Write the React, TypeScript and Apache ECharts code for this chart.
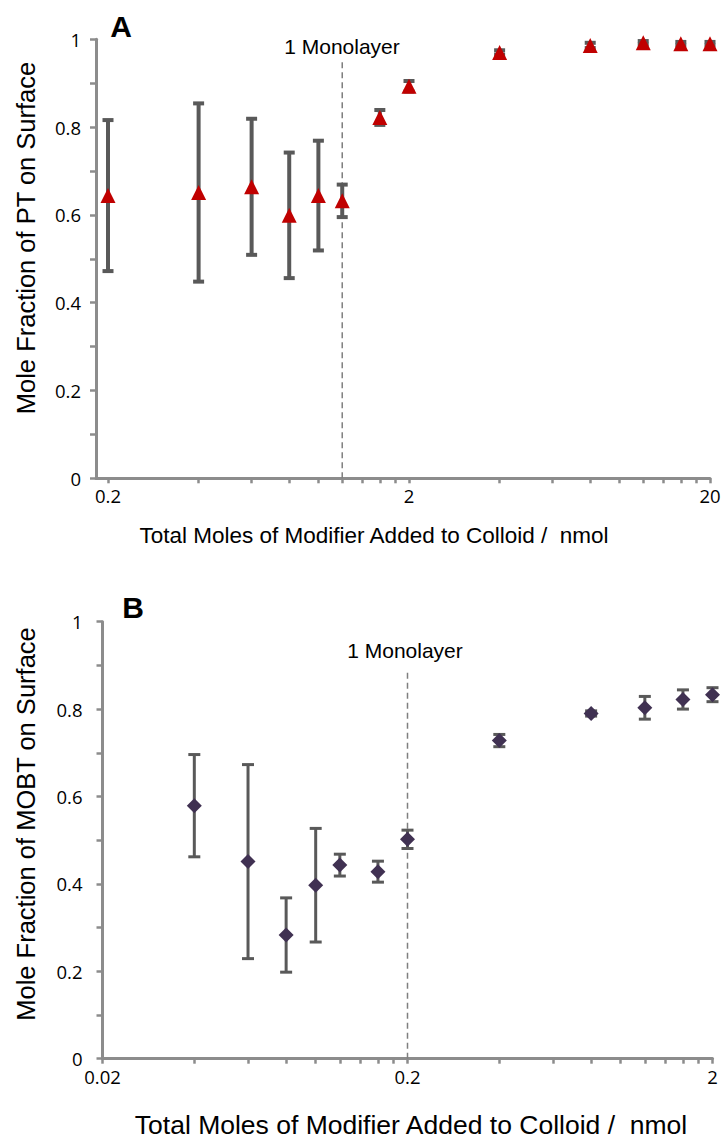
import React, { useEffect, useRef } from "react";
import * as echarts from "echarts";

// Panel A (PT)
const xA = [0.2, 0.4, 0.6, 0.8, 1.0, 1.2, 1.6, 2, 4, 8, 12, 16, 20];
const yA = [0.644, 0.651, 0.664, 0.599, 0.644, 0.632, 0.822, 0.893, 0.970, 0.986, 0.992, 0.990, 0.990];
const errA = [0.172, 0.203, 0.155, 0.143, 0.125, 0.037, 0.017, 0.012, 0.005, 0.006, 0.004, 0.004, 0.004];
const monolayerA = 1.2;
const xTickLabelsA = [0.2, 2, 20];
const xMinorTicksA = [0.2, 0.4, 0.6, 0.8, 1, 1.2, 1.4, 1.6, 1.8, 2, 4, 6, 8, 10, 12, 14, 16, 18, 20];

// Panel B (MOBT)
const xB = [0.04, 0.06, 0.08, 0.1, 0.12, 0.16, 0.2, 0.4, 0.8, 1.2, 1.6, 2.0];
const yB = [0.579, 0.451, 0.283, 0.397, 0.443, 0.428, 0.502, 0.728, 0.790, 0.803, 0.822, 0.833];
const errB = [0.117, 0.222, 0.085, 0.130, 0.025, 0.024, 0.021, 0.014, 0.006, 0.026, 0.022, 0.016];
const monolayerB = 0.2;
const xTickLabelsB = [0.02, 0.2, 2];
const xMinorTicksB = [0.02, 0.04, 0.06, 0.08, 0.1, 0.12, 0.14, 0.16, 0.18, 0.2, 0.4, 0.6, 0.8, 1, 1.2, 1.4, 1.6, 1.8, 2];

const yTicks = [0, 0.2, 0.4, 0.6, 0.8, 1];

const L = Math.log10;
const AXIS = "#8c8c8c";
const ERR = "#595959";

function labelFor(list: number[]) {
  return (v: number) => {
    const hit = list.find((l) => Math.abs(L(l) - v) < 1e-6);
    return hit === undefined ? "" : String(hit);
  };
}

function xAxisOf(grid: number, min: number, max: number, labels: number[], minor: number[]) {
  return {
    type: "value",
    gridIndex: grid,
    min,
    max,
    splitLine: { show: false },
    axisLine: { show: true, onZero: false, lineStyle: { color: AXIS, width: 3 } },
    axisTick: {
      show: true,
      customValues: minor.map(L),
      length: 5,
      lineStyle: { color: AXIS, width: 2.5 },
    },
    axisLabel: {
      customValues: labels.map(L),
      formatter: labelFor(labels),
      color: "#000",
      fontFamily: "Open Sans",
      fontSize: 18.5,
      margin: 8,
    },
  };
}

function yAxisOf(grid: number, margin: number) {
  return {
    type: "value",
    gridIndex: grid,
    min: 0,
    max: 1,
    interval: 0.1,
    splitLine: { show: false },
    axisLine: { show: true, onZero: false, lineStyle: { color: AXIS, width: 3 } },
    axisTick: { show: true, length: 6, lineStyle: { color: AXIS, width: 2.5 } },
    axisLabel: {
      color: "#000",
      fontFamily: "Open Sans",
      fontSize: 18.5,
      margin,
      formatter: (v: number) => {
        const hit = yTicks.find((t) => Math.abs(t - v) < 1e-6);
        return hit === undefined ? "" : String(hit);
      },
    },
  };
}

function errSeries(idx: number, xs: number[], ys: number[], es: number[], lw: number, hw: number) {
  return {
    type: "custom",
    xAxisIndex: idx,
    yAxisIndex: idx,
    z: 2,
    encode: { x: 0, y: [1, 2] },
    data: xs.map((x, i) => [L(x), ys[i] - es[i], ys[i] + es[i]]),
    renderItem: (params: any, api: any) => {
      const x = api.value(0);
      const lo = api.coord([x, api.value(1)]);
      const hi = api.coord([x, api.value(2)]);
      const st = { stroke: ERR, lineWidth: lw };
      return {
        type: "group",
        children: [
          { type: "line", shape: { x1: lo[0], y1: lo[1], x2: hi[0], y2: hi[1] }, style: st },
          { type: "line", shape: { x1: lo[0] - hw, y1: lo[1], x2: lo[0] + hw, y2: lo[1] }, style: st },
          { type: "line", shape: { x1: hi[0] - hw, y1: hi[1], x2: hi[0] + hw, y2: hi[1] }, style: st },
        ],
      };
    },
  };
}

function monoSeries(idx: number, x: number, top: number) {
  return {
    type: "line",
    xAxisIndex: idx,
    yAxisIndex: idx,
    z: 1,
    symbol: "none",
    silent: true,
    data: [
      [L(x), 0],
      [L(x), top],
    ],
    lineStyle: { color: "#7f7f7f", width: 1.5, type: [6, 4] },
  };
}

function txt(text: string, x: number, y: number, font: string, rotation = 0) {
  return {
    type: "text",
    x,
    y,
    rotation,
    style: {
      text,
      font,
      fill: "#000",
      align: "center",
      verticalAlign: "middle",
      textAlign: "center",
      textVerticalAlign: "middle",
    },
  };
}

export default function App() {
  const ref = useRef<HTMLDivElement>(null);
  useEffect(() => {
    if (!ref.current) return;
    const chart = echarts.init(ref.current, undefined, { renderer: "svg" });
    const option: any = {
      animation: false,
      backgroundColor: "#ffffff",
      grid: [
        { left: 96, top: 39.3, width: 614, height: 439, containLabel: false, outerBoundsMode: "none" },
        { left: 102.5, top: 621.7, width: 610, height: 437, containLabel: false, outerBoundsMode: "none" },
      ],
      xAxis: [
        xAxisOf(0, L(0.2) - 12 / 301, L(20), xTickLabelsA, xMinorTicksA),
        xAxisOf(1, L(0.02), L(2), xTickLabelsB, xMinorTicksB),
      ],
      yAxis: [yAxisOf(0, 15), yAxisOf(1, 20)],
      series: [
        monoSeries(0, monolayerA, 0.953),
        errSeries(0, xA, yA, errA, 4, 5.5),
        {
          type: "scatter",
          xAxisIndex: 0,
          yAxisIndex: 0,
          z: 3,
          symbol: "triangle",
          symbolSize: 15,
          itemStyle: { color: "#C00000", opacity: 1 },
          data: xA.map((x, i) => [L(x), yA[i]]),
        },
        monoSeries(1, monolayerB, 0.887),
        errSeries(1, xB, yB, errB, 3, 6),
        {
          type: "scatter",
          xAxisIndex: 1,
          yAxisIndex: 1,
          z: 3,
          symbol: "diamond",
          symbolSize: 15,
          itemStyle: { color: "#403152", opacity: 1 },
          data: xB.map((x, i) => [L(x), yB[i]]),
        },
      ],
      graphic: [
        txt("A", 121, 26, "bold 30px 'Liberation Sans', Arial, sans-serif"),
        txt("B", 133, 607, "bold 30px 'Liberation Sans', Arial, sans-serif"),
        txt("1 Monolayer", 342, 46, "21px 'Liberation Sans', Arial, sans-serif"),
        txt("1 Monolayer", 405, 650, "21px 'Liberation Sans', Arial, sans-serif"),
        txt("Mole Fraction of PT on Surface", 26, 238, "25.5px 'Liberation Sans', Arial, sans-serif", Math.PI / 2),
        txt("Mole Fraction of MOBT on Surface", 26, 824, "25.5px 'Liberation Sans', Arial, sans-serif", Math.PI / 2),
        txt("Total Moles of Modifier Added to Colloid /  nmol", 374, 535, "22.5px 'Liberation Sans', Arial, sans-serif"),
        txt("Total Moles of Modifier Added to Colloid /  nmol", 411, 1125, "26.5px 'Liberation Sans', Arial, sans-serif"),
      ],
    };
    chart.setOption(option);
    return () => chart.dispose();
  }, []);
  return (
    <div
      ref={ref}
      style={{ position: "absolute", left: 0, top: 0, width: 728, height: 1140, background: "#fff" }}
    />
  );
}
